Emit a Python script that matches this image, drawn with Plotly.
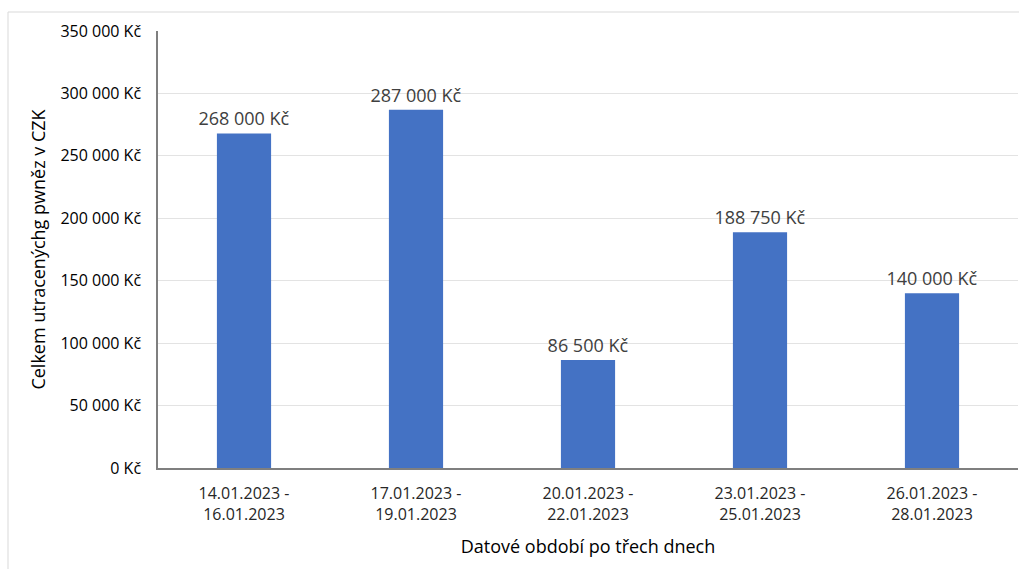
import plotly.graph_objects as go

periods = ["14.01.2023 -<br>16.01.2023", "17.01.2023 -<br>19.01.2023",
           "20.01.2023 -<br>22.01.2023", "23.01.2023 -<br>25.01.2023",
           "26.01.2023 -<br>28.01.2023"]
spent = [268000, 287000, 86500, 188750, 140000]
tick_values = [0, 50000, 100000, 150000, 200000, 250000, 300000, 350000]


def czk(v):
    return f"{v:,}".replace(",", " ") + " Kč"


tick_labels = [czk(v) for v in tick_values]
bar_labels = [czk(v) for v in spent]

FONT = "Open Sans"

fig = go.Figure(go.Bar(
    x=periods, y=spent,
    marker=dict(color="#4472C4", line=dict(width=0)),
    width=0.315,
    text=bar_labels, textposition="outside", cliponaxis=False,
    constraintext="none",
    textfont=dict(family=FONT, size=18, color="#404040"),
))

fig.update_layout(
    width=1019, height=569,
    margin=dict(l=158, r=1, t=31, b=101),
    paper_bgcolor="white", plot_bgcolor="white",
    showlegend=False,
    font=dict(family=FONT, color="black"),
    xaxis=dict(
        showline=True, linecolor="#7f7f7f", linewidth=1.5,
        tickfont=dict(family=FONT, size=16, color="#262626"),
        ticks="", showgrid=False, ticklabelstandoff=10,
        title=dict(text="Datové období po třech dnech",
                   font=dict(family=FONT, size=18, color="black"), standoff=17),
    ),
    yaxis=dict(
        range=[0, 350000], tickvals=tick_values, ticktext=tick_labels,
        showline=True, linecolor="#7f7f7f", linewidth=1.5,
        gridcolor="#e3e3e3", gridwidth=1,
        tickfont=dict(family=FONT, size=16, color="black"),
        ticks="", ticklabelstandoff=12, zeroline=False,
        title=dict(text="Celkem utracenýchg pwněz v CZK",
                   font=dict(family=FONT, size=18, color="black"), standoff=10),
    ),
    shapes=[dict(type="rect", xref="paper", yref="paper",
                 x0=(8 - 158) / 860, x1=1.02, y0=-0.3, y1=1 + (31 - 12) / 437,
                 line=dict(color="#d9d9d9", width=1), layer="below")],
)

fig.write_html("out.html")
